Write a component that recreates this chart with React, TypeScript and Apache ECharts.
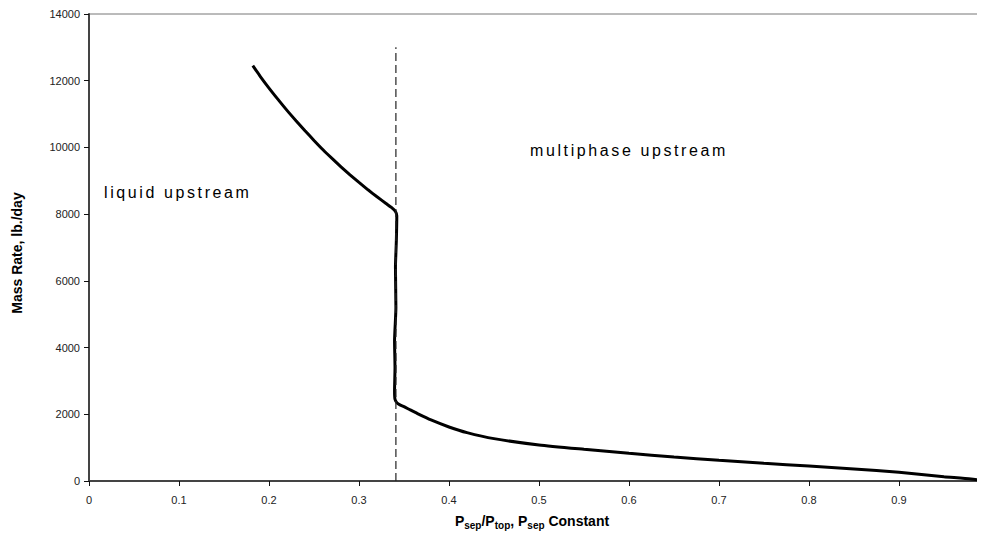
import React, { useEffect, useRef } from "react";
import * as echarts from "echarts";

const pressureRatio = [
  0.182, 0.19, 0.2, 0.21, 0.22, 0.23, 0.24, 0.25, 0.26, 0.27, 0.28, 0.29, 0.3, 0.31,
  0.32, 0.33, 0.336, 0.3405, 0.342,
  0.3415, 0.3405, 0.341, 0.3395, 0.34, 0.3395, 0.34, 0.342, 0.345, 0.35, 0.357, 0.365,
  0.38, 0.4, 0.42, 0.45, 0.5, 0.55, 0.6, 0.65, 0.7, 0.75, 0.8, 0.85, 0.9, 0.95, 0.98, 0.995,
];
const massRate = [
  12450, 12140, 11780, 11440, 11110, 10800, 10500, 10210, 9930, 9670, 9420, 9180, 8950, 8730,
  8520, 8320, 8200, 8080, 7950,
  7200, 6400, 5200, 4200, 3400, 2700, 2450, 2350, 2290, 2230, 2130, 2020,
  1830, 1620, 1450, 1270, 1080, 950, 830, 720, 620, 530, 450, 360, 260, 130, 60, 0,
];
const boundaryX = [0.341, 0.341];
const boundaryY = [0, 13000];
const yTicks = { min: 0, max: 14000, interval: 2000 };
const xTicks = { min: 0, max: 1, interval: 0.1 };
const regionLabels = ["liquid upstream", "multiphase upstream"];

const FONT = "'Liberation Sans', Arial, sans-serif";

export default function App() {
  const ref = useRef<HTMLDivElement>(null);
  useEffect(() => {
    if (!ref.current) return;
    const chart = echarts.init(ref.current, null, { renderer: "svg" });
    chart.setOption({
      animation: false,
      backgroundColor: "#ffffff",
      textStyle: { fontFamily: FONT },
      grid: {
        left: 89,
        top: 14,
        right: -4,
        bottom: 60,
        containLabel: false,
        outerBoundsMode: "none",
        show: true,
        borderColor: "#777",
        borderWidth: 1,
        backgroundColor: "transparent",
      },
      xAxis: {
        type: "value",
        min: xTicks.min,
        max: xTicks.max,
        interval: xTicks.interval,
        splitLine: { show: false },
        axisLine: { show: true, lineStyle: { color: "#444", width: 2 } },
        axisTick: { show: true, length: 5, lineStyle: { color: "#111", width: 1 } },
        axisLabel: {
          showMaxLabel: false,
          margin: 13,
          fontSize: 11,
          color: "#222",
          fontFamily: "'Liberation Sans Narrow', 'Liberation Sans', Arial, sans-serif",
          formatter: (v: number) => String(Math.round(v * 10) / 10),
        },
      },
      yAxis: {
        type: "value",
        min: yTicks.min,
        max: yTicks.max,
        interval: yTicks.interval,
        splitLine: { show: false },
        axisLine: { show: true, lineStyle: { color: "#444", width: 2 } },
        axisTick: { show: true, length: 5, lineStyle: { color: "#111", width: 1 } },
        axisLabel: {
          margin: 9,
          fontSize: 11,
          color: "#222",
          fontFamily: FONT,
          formatter: (v: number) => String(v),
        },
      },
      series: [
        {
          type: "line",
          data: pressureRatio.map((x, i) => [x, massRate[i]]),
          showSymbol: false,
          symbol: "none",
          smooth: 0.2,
          lineStyle: { color: "#000", width: 3 },
          z: 2,
        },
        {
          type: "line",
          data: boundaryX.map((x, i) => [x, boundaryY[i]]),
          showSymbol: false,
          symbol: "none",
          lineStyle: { color: "#222", width: 1.2, type: [8, 4] },
          z: 3,
        },
      ],
      graphic: [
        {
          type: "text",
          x: 104,
          y: 192,
          style: {
            text: regionLabels[0],
            font: `16px ${FONT}`,
            fill: "#000",
            textVerticalAlign: "middle",
          },
        },
        {
          type: "text",
          x: 530,
          y: 150,
          style: {
            text: regionLabels[1],
            font: `16px ${FONT}`,
            fill: "#000",
            textVerticalAlign: "middle",
          },
        },
        {
          type: "text",
          x: 17,
          y: 253,
          rotation: Math.PI / 2,
          style: {
            text: "Mass Rate, lb./day",
            font: `bold 14px ${FONT}`,
            fill: "#000",
            textAlign: "center",
            textVerticalAlign: "middle",
          },
        },
        {
          type: "text",
          x: 532,
          y: 521,
          style: {
            text: "{b|P}{s|sep}{b|/P}{s|top}{b|, P}{s|sep}{b| Constant}",
            textAlign: "center",
            textVerticalAlign: "middle",
            fill: "#000",
            rich: {
              b: { font: `bold 14px ${FONT}`, fill: "#000", verticalAlign: "middle" },
              s: {
                font: `bold 10px ${FONT}`,
                fill: "#000",
                padding: [8, 0, 0, 0],
                verticalAlign: "middle",
              },
            },
          },
        },
      ],
    });
    const svg = ref.current.querySelector("svg");
    if (svg) {
      svg.querySelectorAll("text").forEach((t) => {
        const s = t.textContent || "";
        if (regionLabels.includes(s)) {
          t.setAttribute("letter-spacing", "2.6px");
        }
      });
    }
    return () => chart.dispose();
  }, []);
  return <div ref={ref} style={{ width: 985, height: 541, margin: -8 }} />;
}
